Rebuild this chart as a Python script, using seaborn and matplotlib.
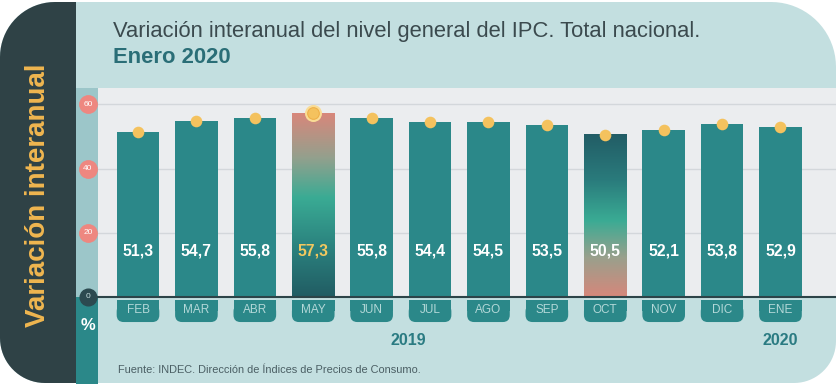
import numpy as np
import matplotlib
matplotlib.use("Agg")
import matplotlib.pyplot as plt
import seaborn as sns
from matplotlib.patches import FancyBboxPatch, Rectangle, Polygon
from matplotlib.colors import LinearSegmentedColormap

# datos
months = ["FEB", "MAR", "ABR", "MAY", "JUN", "JUL", "AGO", "SEP", "OCT", "NOV", "DIC", "ENE"]
values = [51.3, 54.7, 55.8, 57.3, 55.8, 54.4, 54.5, 53.5, 50.5, 52.1, 53.8, 52.9]
value_labels = ["51,3", "54,7", "55,8", "57,3", "55,8", "54,4", "54,5", "53,5", "50,5", "52,1", "53,8", "52,9"]
yticks = [20, 40, 60]
years = ["2019", "2020"]
year_pos = [4.62, 11]
max_month = "MAY"
min_month = "OCT"

title = "Variación interanual del nivel general del IPC. Total nacional."
subtitle = "Enero 2020"
side_label = "Variación interanual"
source = "Fuente: INDEC. Dirección de Índices de Precios de Consumo."

# colores
TEAL = "#2b8889"
LIGHT = "#c3dfe0"
DARK = "#2f4246"
GRAYBG = "#ebedef"
YELLOW = "#f4c25e"
PINK = "#ee8780"

plt.rcParams['font.family'] = ['Liberation Sans', 'DejaVu Sans']

W, H = 837, 384
fig = plt.figure(figsize=(W / 100, H / 100), dpi=100)

# fondo en pixeles
bg = fig.add_axes([0, 0, 1, 1])
bg.set_xlim(0, W)
bg.set_ylim(H, 0)
bg.axis("off")


def rounded(x0, y0, x1, y1, r_tl, r_tr, r_br, r_bl, n=20):
    pts = []
    corners = [(x0 + r_tl, y0 + r_tl, r_tl, 180, 270),
               (x1 - r_tr, y0 + r_tr, r_tr, 270, 360),
               (x1 - r_br, y1 - r_br, r_br, 0, 90),
               (x0 + r_bl, y1 - r_bl, r_bl, 90, 180)]
    for cx, cy, r, a0, a1 in corners:
        t = np.radians(np.linspace(a0, a1, n))
        pts += list(zip(cx + r * np.cos(t), cy + r * np.sin(t)))
    return pts


bg.add_patch(Polygon(rounded(0, 2, 836, 383, 55, 65, 42, 45), color=LIGHT, lw=0))
bg.add_patch(Polygon(rounded(0, 2, 76, 383, 55, 0, 0, 45), color=DARK, lw=0))
bg.add_patch(Rectangle((76, 88), 22, 209, color="#9cc6c9", lw=0))
bg.add_patch(Rectangle((76, 297), 22, 87, color=TEAL, lw=0))

bg.text(113, 37, title, fontsize=15.8, color="#3b4a4e", va="baseline", ha="left")
bg.text(113, 63, subtitle, fontsize=15.8, color="#2a6e77", fontweight="bold", va="baseline", ha="left")
bg.text(38, 195, side_label, rotation=90, fontsize=20, fontweight="bold", color="#f0b650",
        ha="center", va="center")
bg.text(88, 326, "%", fontsize=12, fontweight="bold", color="white", ha="center", va="center")
bg.text(118, 370, source, fontsize=7.9, color="#4b5f64", ha="left", va="center")

# grafico principal
ax = fig.add_axes([98 / W, 1 - 297 / H, (836 - 98) / W, (297 - 88) / H])
ax.set_facecolor(GRAYBG)
sns.barplot(x=months, y=values, color=TEAL, saturation=1, width=0.73, ax=ax, zorder=2)

ymax = (297 - 88) / 3.21
xl = (-(138 - 98) / 58.4, 11 + (836 - 780.5) / 58.4)

# barras con degradado
cmap_up = LinearSegmentedColormap.from_list("up", [(0, "#215c63"), (0.28, "#2b837f"), (0.54, "#3aab94"),
                                                   (0.76, "#94a08d"), (1, "#d8877b")])
cmap_down = LinearSegmentedColormap.from_list("down", [(0, "#d6877b"), (0.24, "#9aa08c"), (0.47, "#3aab94"),
                                                       (0.72, "#2a7b7c"), (1, "#225d66")])
grad = np.linspace(0, 1, 256)[::-1].reshape(-1, 1)
for m, cm in [(max_month, cmap_up), (min_month, cmap_down)]:
    p = ax.patches[months.index(m)]
    p.set_visible(False)
    ax.imshow(grad, extent=[p.get_x(), p.get_x() + p.get_width(), 0, p.get_height()],
              aspect="auto", cmap=cm, zorder=2.5)

# puntos
xs = np.arange(len(months))
i_max = months.index(max_month)
ax.scatter([i_max], [values[i_max]], s=150, color="#f9dc95", zorder=5, clip_on=False, lw=0)
ax.scatter(xs, values, s=70, color=YELLOW, zorder=6, clip_on=False, lw=0)
ax.scatter([i_max], [values[i_max]], s=70, facecolor=YELLOW, edgecolor="#efb14a", lw=0.8,
           zorder=7, clip_on=False)

# etiquetas de valor
for i, lab in enumerate(value_labels):
    col = "#f2c85f" if months[i] == max_month else "white"
    ax.text(i, 14.3, lab, ha="center", va="center", color=col, fontsize=11.3,
            fontweight="bold", zorder=8)

# pestañas de meses
bw = 0.73
for i, m in enumerate(months):
    ax.add_patch(FancyBboxPatch((i - bw / 2, -7.8), bw, 5.5,
                                boxstyle="round,pad=0,rounding_size=0.12",
                                mutation_aspect=58.4 / 3.21, color=TEAL, lw=0, clip_on=False))
    ax.add_patch(Rectangle((i - bw / 2, -4.5), bw, 3.7, color=TEAL, lw=0, clip_on=False))
    ax.text(i, -4.1, m, ha="center", va="center", color="#b3d8d8", fontsize=8.5, clip_on=False)

for yr, xp in zip(years, year_pos):
    ax.text(xp, -13.4, yr, ha="center", va="center", color="#2a7b82", fontsize=11.5,
            fontweight="bold", clip_on=False)

# eje y con circulos
ax.set_yticks(yticks)
ax.grid(axis="y", color="#d3d7db", lw=1)
ax.set_axisbelow(True)
ytr = ax.get_yaxis_transform()
for t in yticks:
    ax.plot([-10 / 738], [t], marker="o", ms=12.5, color=PINK, transform=ytr, clip_on=False, zorder=9)
    ax.text(-10 / 738, t, str(t), transform=ytr, ha="center", va="center", color="white",
            fontsize=6, clip_on=False, zorder=10)
ax.axhline(0, color="#2c4448", lw=1.5, zorder=4, clip_on=False)
ax.plot([-10 / 738], [0], marker="o", ms=12, color="#2c4a50", transform=ytr, clip_on=False, zorder=9)
ax.text(-10 / 738, 0, "0", transform=ytr, ha="center", va="center", color="#c9dfe0",
        fontsize=6, clip_on=False, zorder=10)

ax.set_xlim(*xl)
ax.set_ylim(0, ymax)
ax.tick_params(length=0, labelbottom=False, labelleft=False)
ax.set_xlabel("")
ax.set_ylabel("")
sns.despine(ax=ax, left=True, bottom=True)

fig.savefig("out.png", dpi=100)
